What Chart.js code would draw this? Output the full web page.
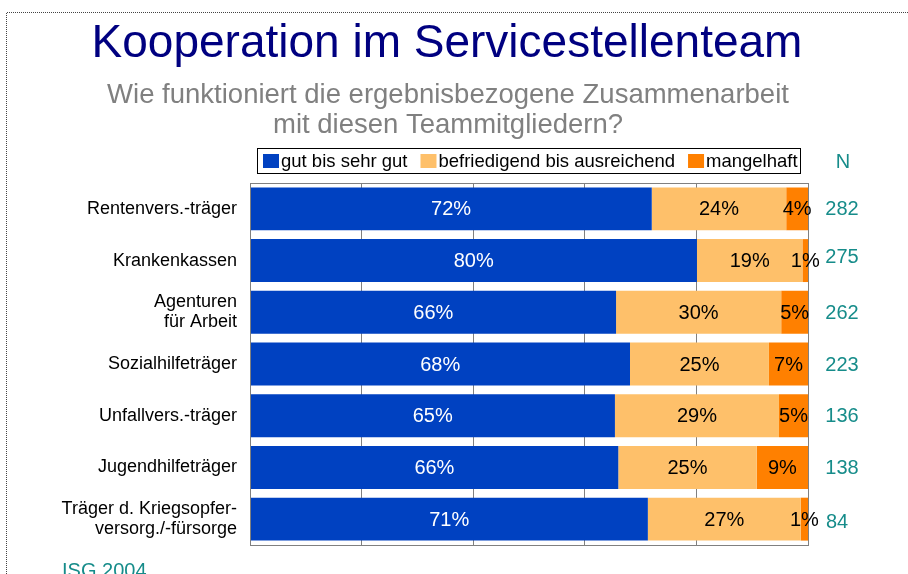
<!DOCTYPE html>
<html><head><meta charset="utf-8">
<script src="https://cdn.jsdelivr.net/npm/chart.js@4.4.1/dist/chart.umd.min.js"></script>
<style>html,body{margin:0;padding:0;background:#fff}#wrap{width:908px;height:574px;position:relative}</style>
</head><body><div id="wrap"><canvas id="c" width="908" height="574"></canvas></div>
<script>
const categories = [
  "Rentenvers.-träger",
  "Krankenkassen",
  ["Agenturen", "für Arbeit"],
  "Sozialhilfeträger",
  "Unfallvers.-träger",
  "Jugendhilfeträger",
  ["Träger d. Kriegsopfer-", "versorg./-fürsorge"]
];
const seriesNames = ["gut bis sehr gut", "befriedigend bis ausreichend", "mangelhaft"];
const gut = [72.0, 80.1, 65.6, 68.1, 65.4, 66.0, 71.3];
const befriedigend = [24.1, 18.9, 29.6, 24.9, 29.4, 24.8, 27.4];
const mangelhaft = [3.9, 1.0, 4.8, 7.0, 5.2, 9.2, 1.3];
const nValues = [282, 275, 262, 223, 136, 138, 84];
const xTicks = [0, 20, 40, 60, 80, 100];

const FONT = "'Liberation Sans', Arial, sans-serif";
const colors = ["#0041C1", "#FEC06A", "#FF8000"];
const labelColors = ["#ffffff", "#000000", "#000000"];
const TEAL = "#168C8A";

const decorPlugin = {
  id: 'decor',
  beforeDraw(chart) {
    const ctx = chart.ctx;
    ctx.save();
    ctx.fillStyle = '#fff';
    ctx.fillRect(0, 0, chart.width, chart.height);
    // dotted frame
    ctx.strokeStyle = '#444';
    ctx.lineWidth = 1;
    ctx.setLineDash([1, 1]);
    ctx.beginPath();
    ctx.moveTo(6.5, 574); ctx.lineTo(6.5, 12.5); ctx.lineTo(908, 12.5);
    ctx.stroke();
    ctx.setLineDash([]);
    // title
    ctx.textAlign = 'center';
    ctx.textBaseline = 'alphabetic';
    ctx.fillStyle = '#000080';
    ctx.font = '46px ' + FONT;
    ctx.fillText('Kooperation im Servicestellenteam', 447, 57);
    ctx.fillStyle = '#808080';
    ctx.font = '27.5px ' + FONT;
    ctx.fillText('Wie funktioniert die ergebnisbezogene Zusammenarbeit', 448, 103);
    ctx.fillText('mit diesen Teammitgliedern?', 448, 133);
    // legend
    const lx = 257, ly = 148, lw = 543, lh = 25;
    ctx.strokeStyle = '#000';
    ctx.strokeRect(lx + 0.5, ly + 0.5, lw, lh);
    ctx.font = '18.5px ' + FONT;
    ctx.textAlign = 'left';
    ctx.textBaseline = 'middle';
    let x = 263;
    chart.data.datasets.forEach((ds) => {
      ctx.fillStyle = ds.backgroundColor;
      ctx.fillRect(x, ly + 6, 16, 14);
      ctx.fillStyle = '#000';
      ctx.fillText(ds.label, x + 18, ly + 14);
      x += 18 + ctx.measureText(ds.label).width + 13;
    });
    // N header
    ctx.fillStyle = TEAL;
    ctx.font = '20px ' + FONT;
    ctx.textAlign = 'center';
    ctx.fillText('N', 843, 162);
    // source
    ctx.textAlign = 'left';
    ctx.textBaseline = 'alphabetic';
    ctx.font = '20px ' + FONT;
    ctx.fillText('ISG 2004', 62, 577);
    ctx.restore();
  },
  afterDatasetsDraw(chart) {
    const ctx = chart.ctx;
    const a = chart.chartArea;
    ctx.save();
    ctx.strokeStyle = '#808080';
    ctx.lineWidth = 1;
    ctx.strokeRect(Math.round(a.left) + 0.5, Math.round(a.top) + 0.5, Math.round(a.right - a.left), Math.round(a.bottom - a.top));
    // data labels
    ctx.font = '20px ' + FONT;
    ctx.textAlign = 'center';
    ctx.textBaseline = 'middle';
    chart.data.datasets.forEach((ds, di) => {
      const meta = chart.getDatasetMeta(di);
      meta.data.forEach((el, i) => {
        const p = el.getCenterPoint();
        ctx.fillStyle = labelColors[di];
        ctx.fillText(Math.round(ds.data[i]) + '%', p.x, p.y + 1);
      });
    });
    // N values
    const ys = chart.scales.y;
    ctx.fillStyle = TEAL;
    nValues.forEach((n, i) => {
      const y = ys.getPixelForValue(i);
      ctx.fillText(String(n), i === 6 ? 837 : 842, y + (i === 1 ? -3 : (i === 6 ? 3 : 1)));
    });
    ctx.restore();
  }
};

new Chart(document.getElementById('c'), {
  type: 'bar',
  data: {
    labels: categories,
    datasets: [gut, befriedigend, mangelhaft].map((d, i) => ({
      label: seriesNames[i],
      data: d,
      backgroundColor: colors[i],
      borderWidth: 0,
      barPercentage: 0.83,
      categoryPercentage: 1.0
    }))
  },
  options: {
    indexAxis: 'y',
    responsive: false,
    animation: false,
    layout: { padding: { left: 0, right: 100, top: 183, bottom: 29 } },
    plugins: { legend: { display: false }, tooltip: { enabled: false }, title: { display: false } },
    scales: {
      x: {
        stacked: true, min: 0, max: 100,
        afterBuildTicks(s) { s.ticks = xTicks.map(v => ({ value: v })); },
        afterFit(s) { s.height = 0; },
        ticks: { display: false },
        grid: { color: '#808080', drawTicks: false },
        border: { display: false }
      },
      y: {
        stacked: true,
        afterFit(s) { s.width = 250; },
        grid: { display: false },
        border: { display: false },
        ticks: { color: '#000', padding: 5, font: { family: FONT, size: 18, lineHeight: 1.12 } }
      }
    }
  },
  plugins: [decorPlugin]
});
</script></body></html>
